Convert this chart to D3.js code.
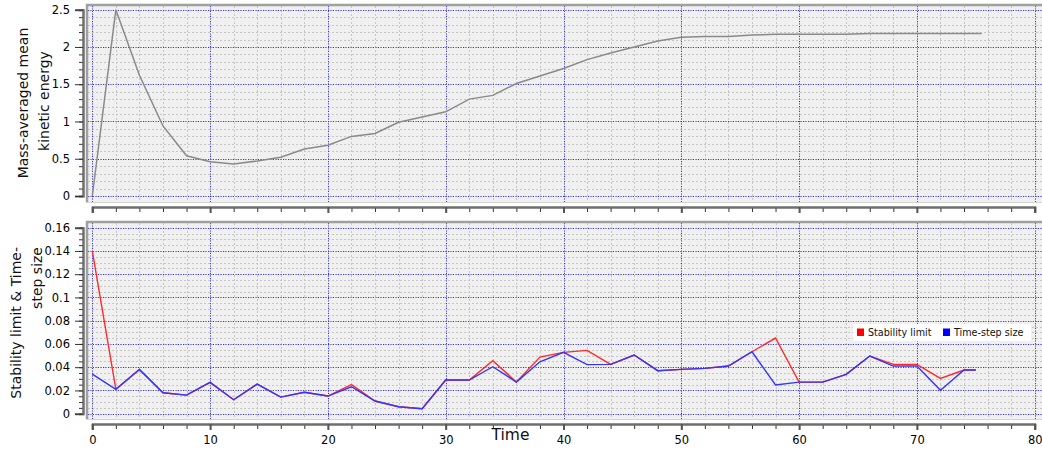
<!DOCTYPE html>
<html>
<head>
<meta charset="utf-8">
<script src="https://cdn.jsdelivr.net/npm/d3@7/dist/d3.min.js"></script>
<style>
  html, body { margin: 0; padding: 0; background: #ffffff; }
  svg { display: block; font-family: "DejaVu Sans", sans-serif; }
</style>
</head>
<body>
<svg id="chart" width="1042" height="454"></svg>
<script>
// Kinetic energy history (sampled every 2 time units, last sample at end of run)
const keTime = [0, 2, 4, 6, 8, 10, 12, 14, 16, 18, 20, 22, 24, 26, 28, 30, 32, 34, 36, 38,
  40, 42, 44, 46, 48, 50, 52, 54, 56, 58, 60, 62, 64, 66, 68, 70, 72, 74, 75.5];
const kineticEnergy = [0, 2.5, 1.62, 0.94, 0.54, 0.46, 0.43, 0.47, 0.52, 0.63, 0.68, 0.80, 0.84,
  0.99, 1.06, 1.13, 1.30, 1.35, 1.51, 1.61, 1.71, 1.83, 1.92, 2.00, 2.08, 2.13, 2.14, 2.14,
  2.16, 2.17, 2.17, 2.17, 2.17, 2.18, 2.18, 2.18, 2.18, 2.18, 2.18];

// Time-step control history
const dtTime = [0, 2, 4, 6, 8, 10, 12, 14, 16, 18, 20, 22, 24, 26, 28, 30, 32, 34, 36, 38,
  40, 42, 44, 46, 48, 50, 52, 54, 56, 58, 60, 62, 64, 66, 68, 70, 72, 74, 75];
const stabilityLimit = [0.14, 0.021, 0.038, 0.018, 0.016, 0.027, 0.012, 0.0255, 0.0143, 0.0184,
  0.0152, 0.025, 0.0109, 0.006, 0.0043, 0.029, 0.029, 0.0456, 0.0272, 0.0487, 0.0528, 0.0545,
  0.0424, 0.0505, 0.037, 0.0381, 0.039, 0.041, 0.0533, 0.0651, 0.0272, 0.0272, 0.0338, 0.0496,
  0.0424, 0.0424, 0.0304, 0.0376, 0.0376];
const timeStepSize = [0.034, 0.021, 0.038, 0.018, 0.016, 0.027, 0.012, 0.0255, 0.0143, 0.0184,
  0.0152, 0.0232, 0.0109, 0.006, 0.0043, 0.029, 0.029, 0.0404, 0.0272, 0.0447, 0.0528, 0.0422,
  0.0424, 0.0505, 0.037, 0.0381, 0.039, 0.041, 0.0533, 0.0247, 0.0272, 0.0272, 0.0338, 0.0496,
  0.041, 0.041, 0.0201, 0.0376, 0.0376];

// Axis ticks
const xMajorTicks = [0, 10, 20, 30, 40, 50, 60, 70, 80];
const keMajorTicks = [0, 0.5, 1, 1.5, 2, 2.5];
const dtMajorTicks = [0, 0.02, 0.04, 0.06, 0.08, 0.1, 0.12, 0.14, 0.16];

const legendLabels = ["Stability limit", "Time-step size"];
const seriesColors = ["#ff2a2a", "#3535ff"];
const legendSwatches = ["#ff0000", "#0000ff"];

const svg = d3.select("#chart");

const x = d3.scaleLinear().domain([0, 80]).range([92.3, 1034.7]);
const xMinor = d3.range(0, 80.001, 2);

const panels = [
  {
    id: "ke",
    box: { x0: 86, x1: 1042, y0: 4, y1: 202 },
    y: d3.scaleLinear().domain([0, 2.5]).range([196, 9.7]),
    major: keMajorTicks,
    minor: d3.range(0, 2.5001, 0.1),
    xAxisY: 207,
    showXLabels: false,
    fmt: d => d3.format("")(+d.toFixed(1))
  },
  {
    id: "dt",
    box: { x0: 86, x1: 1042, y0: 221, y1: 419 },
    y: d3.scaleLinear().domain([0, 0.16]).range([413.7, 227.7]),
    major: dtMajorTicks,
    minor: d3.range(0, 0.16001, 0.005),
    xAxisY: 424,
    showXLabels: true,
    fmt: d => d3.format("")(+d.toFixed(2))
  }
];

panels.forEach(p => {
  const g = svg.append("g").attr("class", "panel-" + p.id);
  const b = p.box;

  g.append("rect")
    .attr("x", b.x0).attr("y", b.y0)
    .attr("width", b.x1 - b.x0).attr("height", b.y1 - b.y0)
    .attr("fill", "#f0f0f0");

  const grid = g.append("g").attr("class", "grid");
  // minor grid
  grid.selectAll("line.hminor").data(p.minor).join("line")
    .attr("x1", b.x0 + 2).attr("x2", b.x1)
    .attr("y1", d => Math.round(p.y(d)) + 0.5).attr("y2", d => Math.round(p.y(d)) + 0.5)
    .attr("stroke", "#c6c6c6").attr("stroke-width", 1).attr("stroke-dasharray", "2,2");
  grid.selectAll("line.vminor").data(xMinor).join("line")
    .attr("y1", b.y0 + 2).attr("y2", b.y1)
    .attr("x1", d => Math.round(x(d)) + 0.5).attr("x2", d => Math.round(x(d)) + 0.5)
    .attr("stroke", "#c6c6c6").attr("stroke-width", 1).attr("stroke-dasharray", "2,2");
  // major grid
  grid.selectAll("line.hmajor").data(p.major).join("line")
    .attr("x1", b.x0 + 2).attr("x2", b.x1)
    .attr("y1", d => Math.round(p.y(d)) + 0.5).attr("y2", d => Math.round(p.y(d)) + 0.5)
    .attr("stroke", "#3030ff").attr("stroke-width", 1).attr("stroke-dasharray", "1,1.5");
  grid.selectAll("line.vmajor").data(xMajorTicks).join("line")
    .attr("y1", b.y0 + 2).attr("y2", b.y1)
    .attr("x1", d => Math.round(x(d)) + 0.5).attr("x2", d => Math.round(x(d)) + 0.5)
    .attr("stroke", "#3030ff").attr("stroke-width", 1).attr("stroke-dasharray", "1,1.5");

  // frame
  g.append("line").attr("x1", b.x0).attr("x2", b.x1).attr("y1", b.y0 + 1).attr("y2", b.y0 + 1)
    .attr("stroke", "#a0a0a0").attr("stroke-width", 2.5);
  g.append("line").attr("x1", b.x0 + 1).attr("x2", b.x0 + 1).attr("y1", b.y0).attr("y2", b.y1)
    .attr("stroke", "#a0a0a0").attr("stroke-width", 2.5);
  g.append("line").attr("x1", b.x0).attr("x2", b.x1).attr("y1", b.y1 + 0.5).attr("y2", b.y1 + 0.5)
    .attr("stroke", "#d4d4d4").attr("stroke-width", 1);

  // clip for data
  svg.append("clipPath").attr("id", "clip-" + p.id)
    .append("rect").attr("x", b.x0 + 2).attr("y", b.y0 + 2)
    .attr("width", b.x1 - b.x0 - 2).attr("height", b.y1 - b.y0 - 2);

  // left axis: minor then major ticks
  const yMinorAxis = d3.axisLeft(p.y).tickValues(p.minor).tickSize(4).tickFormat("");
  const yMajorAxis = d3.axisLeft(p.y).tickValues(p.major).tickSize(8).tickPadding(5).tickFormat(p.fmt);
  const ya = g.append("g").attr("transform", "translate(83,0)");
  ya.call(yMinorAxis);
  const yb = g.append("g").attr("transform", "translate(83,0)").call(yMajorAxis);
  [ya, yb].forEach(s => {
    s.select(".domain").attr("stroke", "#6e6e6e").attr("stroke-width", 2);
    s.selectAll(".tick line").attr("stroke", "#333").attr("stroke-width", 1);
  });
  yb.selectAll(".tick text").attr("fill", "#000").attr("font-size", "11.5px")
    .attr("font-family", "DejaVu Sans, sans-serif");

  // bottom axis
  const xMinorAxis = d3.axisBottom(x).tickValues(xMinor).tickSize(5).tickFormat("");
  const xMajorAxis = d3.axisBottom(x).tickValues(xMajorTicks).tickSize(6).tickPadding(6)
    .tickFormat(p.showXLabels ? d3.format("d") : "");
  const xa = g.append("g").attr("transform", `translate(0,${p.xAxisY})`).call(xMinorAxis);
  const xb = g.append("g").attr("transform", `translate(0,${p.xAxisY})`).call(xMajorAxis);
  [xa, xb].forEach(s => {
    s.select(".domain").attr("stroke", "#6e6e6e").attr("stroke-width", 2);
  });
  xa.selectAll(".tick line").attr("stroke", "#333").attr("stroke-width", 1);
  xb.selectAll(".tick line").attr("stroke", "#555").attr("stroke-width", 2);
  xb.selectAll(".tick text").attr("fill", "#000").attr("font-size", "11.5px")
    .attr("font-family", "DejaVu Sans, sans-serif");

  p.g = g;
});

// kinetic energy curve
const ke = panels[0];
ke.g.append("path")
  .datum(keTime.map((t, i) => [t, kineticEnergy[i]]))
  .attr("clip-path", "url(#clip-ke)")
  .attr("fill", "none").attr("stroke", "#8a8a8a").attr("stroke-width", 1.5)
  .attr("d", d3.line().x(d => x(d[0])).y(d => ke.y(d[1])));

// stability limit under time-step size
const dt = panels[1];
[stabilityLimit, timeStepSize].forEach((vals, k) => {
  dt.g.append("path")
    .datum(dtTime.map((t, i) => [t, vals[i]]))
    .attr("clip-path", "url(#clip-dt)")
    .attr("fill", "none").attr("stroke", seriesColors[k]).attr("stroke-width", 1.4)
    .attr("d", d3.line().x(d => x(d[0])).y(d => dt.y(d[1])));
});

// axis titles
svg.append("text")
  .attr("transform", "translate(23,103) rotate(-90)")
  .attr("text-anchor", "middle").attr("dominant-baseline", "central")
  .attr("font-size", "14px").attr("fill", "#111").text("Mass-averaged mean");
svg.append("text")
  .attr("transform", "translate(43.5,101) rotate(-90)")
  .attr("text-anchor", "middle").attr("dominant-baseline", "central")
  .attr("font-size", "14px").attr("fill", "#111").text("kinetic energy");

svg.append("text")
  .attr("transform", "translate(15.5,247) rotate(-90)")
  .attr("text-anchor", "end").attr("dominant-baseline", "central")
  .attr("font-size", "14px").attr("fill", "#111").text("Stability limit & Time-");
svg.append("text")
  .attr("transform", "translate(37,247) rotate(-90)")
  .attr("text-anchor", "end").attr("dominant-baseline", "central")
  .attr("font-size", "14px").attr("fill", "#111").text("step size");

svg.append("text")
  .attr("x", 510.5).attr("y", 440)
  .attr("text-anchor", "middle")
  .attr("font-size", "15.5px").attr("fill", "#111").text("Time");

// legend
const leg = svg.append("g").attr("class", "legend");
leg.append("rect").attr("x", 853).attr("y", 324).attr("width", 178).attr("height", 17)
  .attr("fill", "#ffffff");
const legX = [857, 943];
legendLabels.forEach((lab, i) => {
  leg.append("rect").attr("x", legX[i]).attr("y", 328.5).attr("width", 7).attr("height", 7.5)
    .attr("fill", legendSwatches[i]);
  leg.append("text").attr("x", legX[i] + 11).attr("y", 336)
    .attr("font-size", "9.6px").attr("fill", "#111").text(lab);
});
</script>
</body>
</html>
